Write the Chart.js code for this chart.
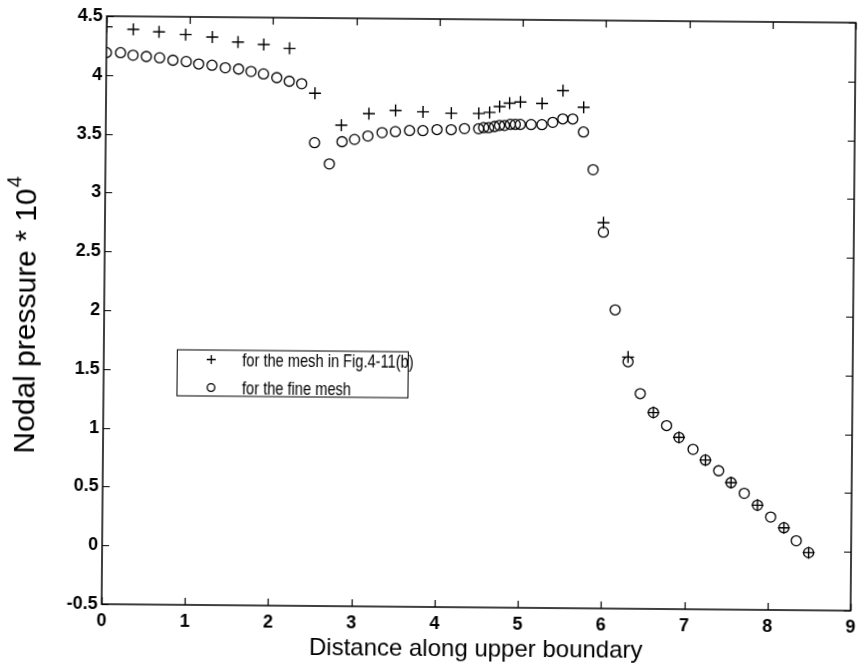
<!DOCTYPE html>
<html>
<head>
<meta charset="utf-8">
<script src="https://cdn.jsdelivr.net/npm/chart.js@4.4.1/dist/chart.umd.min.js"></script>
<style>
  html, body { margin: 0; padding: 0; background: #ffffff; }
  #wrap { width: 864px; height: 666px; transform: rotate(0.5deg); transform-origin: 50% 50%; }
  canvas { display: block; }
</style>
</head>
<body>
<div id="wrap"><canvas id="c" width="864" height="666"></canvas></div>
<script>
// Nodal pressure (x 10^4) along the upper boundary
const coarseX = [0, 0.32, 0.63, 0.95, 1.27, 1.58, 1.89, 2.20, 2.51, 2.83, 3.16, 3.48, 3.81, 4.15, 4.48, 4.61, 4.73, 4.85, 4.98, 5.24, 5.49, 5.74, 5.99, 6.30, 6.61, 6.92, 7.24, 7.55, 7.87, 8.19, 8.49];
const coarseY = [4.41, 4.39, 4.37, 4.35, 4.33, 4.29, 4.27, 4.24, 3.86, 3.59, 3.69, 3.72, 3.71, 3.70, 3.70, 3.71, 3.76, 3.79, 3.80, 3.79, 3.90, 3.76, 2.78, 1.64, 1.17, 0.96, 0.77, 0.58, 0.39, 0.20, -0.01];

const fineX = [0, 0.17, 0.32, 0.48, 0.64, 0.80, 0.96, 1.11, 1.27, 1.43, 1.59, 1.74, 1.89, 2.05, 2.20, 2.35, 2.51, 2.69, 2.84, 2.99, 3.15, 3.32, 3.48, 3.65, 3.81, 3.98, 4.15, 4.31, 4.48, 4.54, 4.60, 4.67, 4.73, 4.79, 4.86, 4.92, 4.98, 5.11, 5.24, 5.37, 5.49, 5.61, 5.74, 5.86, 5.99, 6.14, 6.30, 6.45, 6.61, 6.77, 6.92, 7.09, 7.24, 7.40, 7.55, 7.71, 7.87, 8.03, 8.19, 8.34, 8.49];
const fineY = [4.19, 4.19, 4.17, 4.16, 4.15, 4.13, 4.12, 4.10, 4.09, 4.07, 4.06, 4.04, 4.02, 3.99, 3.96, 3.94, 3.44, 3.26, 3.45, 3.47, 3.50, 3.53, 3.54, 3.55, 3.55, 3.56, 3.56, 3.57, 3.57, 3.58, 3.58, 3.59, 3.60, 3.60, 3.61, 3.61, 3.61, 3.61, 3.61, 3.63, 3.66, 3.66, 3.55, 3.23, 2.70, 2.04, 1.60, 1.33, 1.17, 1.06, 0.96, 0.86, 0.77, 0.68, 0.58, 0.49, 0.39, 0.29, 0.20, 0.09, -0.01];

const xTicks = [0, 1, 2, 3, 4, 5, 6, 7, 8, 9];
const yTicks = [-0.5, 0, 0.5, 1, 1.5, 2, 2.5, 3, 3.5, 4, 4.5];
const seriesLabels = ['for the mesh in Fig.4-11(b)', 'for the fine mesh'];
const xTitle = 'Distance along upper boundary';
const yTitleMain = 'Nodal pressure * 10';
const yTitleExp = '4';

const FONT = "'Liberation Sans', Arial, Helvetica, sans-serif";

function toPoints(xs, ys) {
  return xs.map((x, i) => ({ x: x, y: ys[i] }));
}

// Box around the axes with inward tick marks on all four sides
const framePlugin = {
  id: 'frame',
  afterDraw(chart) {
    const { ctx, chartArea: a, scales } = chart;
    const len = 7;
    ctx.save();
    ctx.strokeStyle = '#000';
    ctx.lineWidth = 1.5;
    ctx.strokeRect(a.left, a.top, a.right - a.left, a.bottom - a.top);
    ctx.lineWidth = 1.2;
    ctx.beginPath();
    xTicks.forEach(v => {
      const px = Math.round(scales.x.getPixelForValue(v)) + 0.5;
      ctx.moveTo(px, a.bottom); ctx.lineTo(px, a.bottom - len);
      ctx.moveTo(px, a.top); ctx.lineTo(px, a.top + len);
    });
    yTicks.forEach(v => {
      const py = Math.round(scales.y.getPixelForValue(v)) + 0.5;
      ctx.moveTo(a.left, py); ctx.lineTo(a.left + len, py);
      ctx.moveTo(a.right, py); ctx.lineTo(a.right - len, py);
    });
    ctx.stroke();
    ctx.restore();
  }
};

// Vertical axis title with a raised exponent
const yTitlePlugin = {
  id: 'yTitle',
  afterDraw(chart) {
    const { ctx, chartArea: a } = chart;
    const big = 30, small = 20;
    ctx.save();
    ctx.fillStyle = '#000';
    ctx.translate(27, (a.top + a.bottom) / 2 + 6);
    ctx.rotate(-Math.PI / 2);
    ctx.textBaseline = 'middle';
    ctx.textAlign = 'left';
    ctx.font = big + 'px ' + FONT;
    const w1 = ctx.measureText(yTitleMain).width;
    ctx.font = small + 'px ' + FONT;
    const w2 = ctx.measureText(yTitleExp).width;
    const start = -(w1 + w2) / 2;
    ctx.font = big + 'px ' + FONT;
    ctx.fillText(yTitleMain, start, 0);
    ctx.font = small + 'px ' + FONT;
    ctx.fillText(yTitleExp, start + w1 + 1, -13);
    ctx.restore();
  }
};

// Boxed key inside the plot
const keyPlugin = {
  id: 'key',
  afterDraw(chart) {
    const { ctx } = chart;
    const bx = 177.5, by = 352, bw = 231, bh = 46;
    ctx.save();
    ctx.fillStyle = '#fff';
    ctx.fillRect(bx, by, bw, bh);
    ctx.strokeStyle = '#000';
    ctx.lineWidth = 1;
    ctx.strokeRect(bx, by, bw, bh);
    const rows = [by + 9.5, by + 37.5];
    const mx = bx + 34;
    ctx.lineWidth = 1.3;
    // cross marker
    ctx.beginPath();
    ctx.moveTo(mx - 4.5, rows[0]); ctx.lineTo(mx + 4.5, rows[0]);
    ctx.moveTo(mx, rows[0] - 4.5); ctx.lineTo(mx, rows[0] + 4.5);
    ctx.stroke();
    // circle marker
    ctx.beginPath();
    ctx.arc(mx, rows[1], 3.8, 0, Math.PI * 2);
    ctx.stroke();
    ctx.fillStyle = '#000';
    ctx.font = '19px ' + FONT;
    ctx.textBaseline = 'middle';
    rows.forEach((ry, i) => {
      ctx.save();
      ctx.translate(bx + 65, ry);
      ctx.scale(0.77, 1);
      ctx.fillText(seriesLabels[i], 0, 1);
      ctx.restore();
    });
    ctx.restore();
  }
};

new Chart(document.getElementById('c'), {
  type: 'scatter',
  data: {
    datasets: [
      {
        label: seriesLabels[1],
        data: toPoints(fineX, fineY),
        pointStyle: 'circle',
        pointRadius: 5,
        pointBorderWidth: 1.3,
        borderColor: '#000',
        backgroundColor: 'rgba(0,0,0,0)',
        showLine: false
      },
      {
        label: seriesLabels[0],
        data: toPoints(coarseX, coarseY),
        pointStyle: 'cross',
        pointRadius: 6,
        pointBorderWidth: 1.4,
        borderColor: '#000',
        backgroundColor: '#000',
        showLine: false
      }
    ]
  },
  options: {
    responsive: false,
    devicePixelRatio: 1,
    animation: false,
    events: [],
    layout: { padding: { top: 19, right: 7, left: 0, bottom: 0 } },
    plugins: {
      legend: { display: false },
      tooltip: { enabled: false }
    },
    scales: {
      x: {
        type: 'linear',
        min: 0,
        max: 9,
        afterBuildTicks: s => { s.ticks = xTicks.map(v => ({ value: v })); },
        afterFit: s => { s.height = 59; },
        grid: { display: false, drawTicks: false },
        border: { display: false },
        ticks: {
          color: '#000',
          font: { family: FONT, size: 18, weight: 'bold' },
          padding: 6,
          maxRotation: 0,
          callback: v => String(v)
        },
        title: {
          display: true,
          text: xTitle,
          color: '#000',
          font: { family: FONT, size: 24 },
          padding: { top: 0, bottom: 2 }
        }
      },
      y: {
        type: 'linear',
        min: -0.5,
        max: 4.5,
        afterBuildTicks: s => { s.ticks = yTicks.map(v => ({ value: v })); },
        afterFit: s => { s.width = 104; },
        grid: { display: false, drawTicks: false },
        border: { display: false },
        ticks: {
          color: '#000',
          font: { family: FONT, size: 18, weight: 'bold' },
          padding: 4,
          callback: v => String(v)
        }
      }
    }
  },
  plugins: [framePlugin, yTitlePlugin, keyPlugin]
});
</script>
</body>
</html>
